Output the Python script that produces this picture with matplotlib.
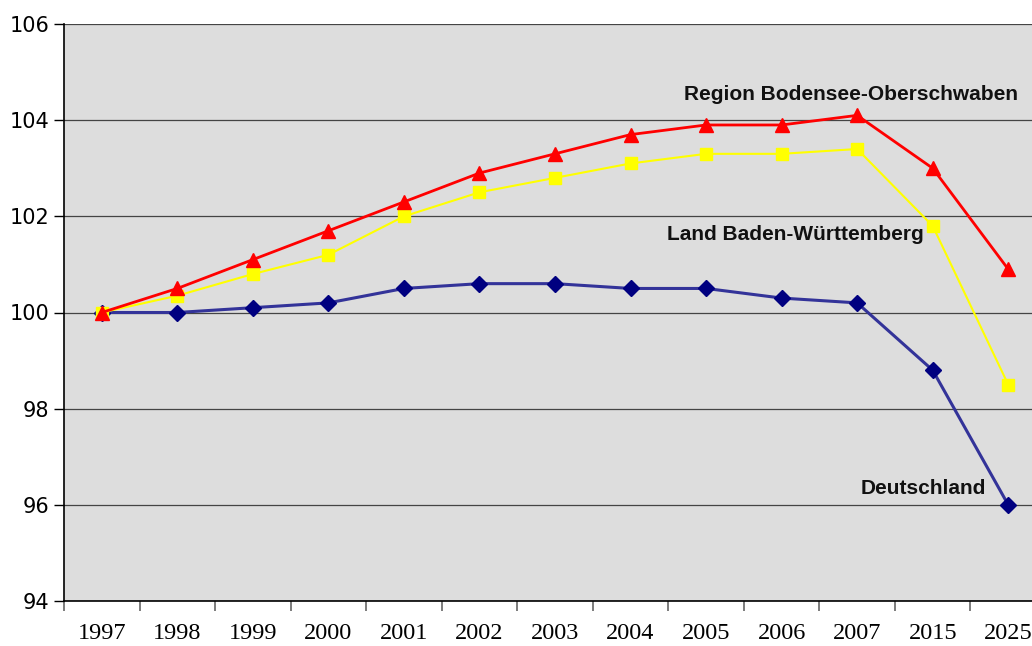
import matplotlib
matplotlib.use("Agg")
import matplotlib.pyplot as plt
import numpy as np

years = ["1997", "1998", "1999", "2000", "2001", "2002", "2003",
         "2004", "2005", "2006", "2007", "2015", "2025"]
region = [100.0, 100.5, 101.1, 101.7, 102.3, 102.9, 103.3,
          103.7, 103.9, 103.9, 104.1, 103.0, 100.9]
land = [100.0, 100.35, 100.8, 101.2, 102.0, 102.5, 102.8,
        103.1, 103.3, 103.3, 103.4, 101.8, 98.5]
deutschland = [100.0, 100.0, 100.1, 100.2, 100.5, 100.6, 100.6,
               100.5, 100.5, 100.3, 100.2, 98.8, 96.0]

fig = plt.figure(figsize=(10.32, 6.46), dpi=100)
# plot area runs past the right edge, like the original (2025 is clipped)
ax = fig.add_axes([64/1032, 45/646, 982/1032, 577/646])
ax.set_facecolor("#DDDDDD")

x = np.arange(len(years))
ax.plot(x, deutschland, color="#333399", lw=2.2, marker="D", ms=8.5,
        mfc="#000080", mec="#000080", zorder=3)
ax.plot(x, land, color="#FFFF00", lw=1.5, marker="s", ms=9,
        mfc="#FFFF00", mec="#FFFF00", zorder=4)
ax.plot(x, region, color="#FF0000", lw=2, marker="^", ms=10,
        mfc="#FF0000", mec="#FF0000", zorder=5)

ax.set_xlim(-0.5, len(years) - 0.5)
ax.set_ylim(94, 106)
ax.set_yticks(np.arange(94, 107, 2))
ax.set_yticklabels([str(v) for v in range(94, 107, 2)],
                   fontsize=15, family="DejaVu Sans")
ax.yaxis.grid(True, color="#444444", lw=0.9)
ax.set_axisbelow(True)

ax.set_xticks(x)
ax.set_xticklabels(years, fontsize=17.5, family="Liberation Serif")
ax.tick_params(axis="x", length=0, pad=16)
ax.set_xticks(np.arange(-0.5, len(years), 1), minor=True)
ax.tick_params(axis="x", which="minor", length=7, color="#666666", width=1.2)
ax.tick_params(axis="y", length=7, width=1, color="black")

for s in ["top", "right"]:
    ax.spines[s].set_visible(False)
ax.spines["left"].set_linewidth(1.2)
ax.spines["bottom"].set_linewidth(1.2)

lbl = dict(fontsize=15, fontweight="bold", family="Liberation Sans",
           ha="center", va="center", color="#111111")
ax.text(9.92, 104.54, "Region Bodensee-Oberschwaben", **lbl)
ax.text(9.18, 101.63, "Land Baden-Württemberg", **lbl)
ax.text(10.87, 96.33, "Deutschland", **lbl)

fig.savefig("out.png", dpi=100)
